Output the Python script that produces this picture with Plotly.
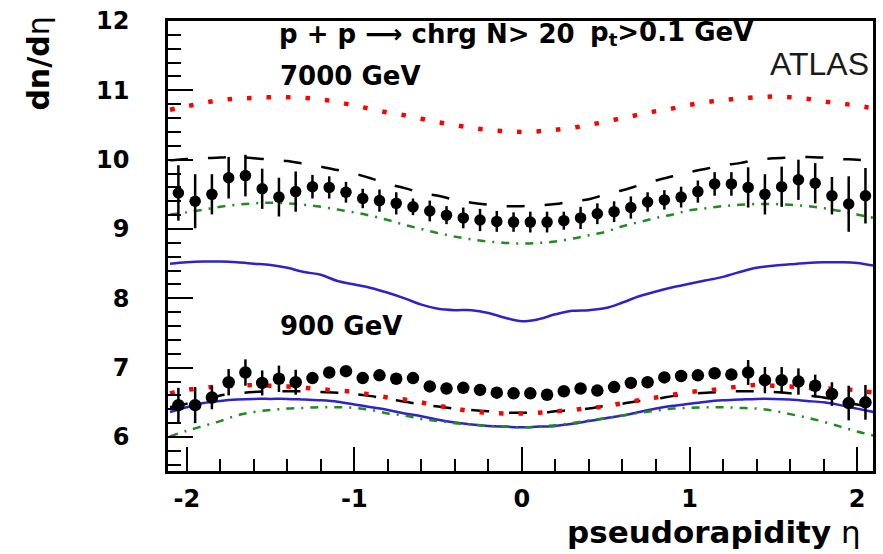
import plotly.graph_objects as go

# ---------------- data ----------------
eta_pts = [-2.05, -1.95, -1.85, -1.75, -1.65, -1.55, -1.45, -1.35, -1.25, -1.15, -1.05,
           -0.95, -0.85, -0.75, -0.65, -0.55, -0.45, -0.35, -0.25, -0.15, -0.05,
           0.05, 0.15, 0.25, 0.35, 0.45, 0.55, 0.65, 0.75, 0.85, 0.95,
           1.05, 1.15, 1.25, 1.35, 1.45, 1.55, 1.65, 1.75, 1.85, 1.95, 2.05]

data_7000 = [9.52, 9.40, 9.50, 9.74, 9.77, 9.58, 9.46, 9.54, 9.61, 9.60, 9.53,
             9.44, 9.41, 9.37, 9.32, 9.26, 9.20, 9.16, 9.13, 9.11, 9.10,
             9.10, 9.10, 9.12, 9.16, 9.22, 9.25, 9.31, 9.39, 9.42, 9.46,
             9.54, 9.65, 9.65, 9.60, 9.50, 9.61, 9.71, 9.66, 9.48, 9.36, 9.48]
err_7000 = [0.40, 0.39, 0.29, 0.30, 0.30, 0.29, 0.28, 0.29, 0.17, 0.16, 0.15,
            0.14, 0.16, 0.16, 0.12, 0.15, 0.13, 0.15, 0.16, 0.15, 0.14,
            0.15, 0.15, 0.13, 0.16, 0.15, 0.15, 0.16, 0.14, 0.14, 0.15,
            0.16, 0.17, 0.17, 0.29, 0.29, 0.29, 0.29, 0.29, 0.27, 0.40, 0.40]

data_900 = [6.46, 6.46, 6.57, 6.79, 6.93, 6.78, 6.84, 6.79, 6.85, 6.93, 6.95,
            6.85, 6.89, 6.84, 6.85, 6.73, 6.70, 6.71, 6.68, 6.64, 6.63,
            6.63, 6.61, 6.66, 6.70, 6.67, 6.72, 6.78, 6.79, 6.86, 6.88,
            6.89, 6.92, 6.90, 6.93, 6.82, 6.82, 6.80, 6.74, 6.62, 6.49, 6.50]
err_900 = [0.25, 0.26, 0.17, 0.19, 0.19, 0.18, 0.19, 0.18, 0.04, 0.04, 0.04,
           0.04, 0.04, 0.04, 0.04, 0.04, 0.04, 0.04, 0.04, 0.04, 0.04,
           0.04, 0.04, 0.04, 0.04, 0.04, 0.04, 0.04, 0.04, 0.04, 0.04,
           0.04, 0.04, 0.04, 0.18, 0.19, 0.19, 0.19, 0.16, 0.17, 0.25, 0.25]

eta_curve = [-2.1, -2.0, -1.9, -1.8, -1.7, -1.6, -1.5, -1.4, -1.3, -1.2, -1.1,
             -1.0, -0.9, -0.8, -0.7, -0.6, -0.5, -0.4, -0.3, -0.2, -0.1,
             0.0, 0.1, 0.2, 0.3, 0.4, 0.5, 0.6, 0.7, 0.8, 0.9,
             1.0, 1.1, 1.2, 1.3, 1.4, 1.5, 1.6, 1.7, 1.8, 1.9, 2.0, 2.1]

red_7000 = [10.72, 10.77, 10.82, 10.86, 10.88, 10.89, 10.90, 10.90, 10.89, 10.87, 10.83,
            10.78, 10.73, 10.68, 10.64, 10.59, 10.54, 10.50, 10.46, 10.43, 10.41,
            10.40, 10.41, 10.43, 10.46, 10.50, 10.55, 10.60, 10.65, 10.70, 10.74,
            10.79, 10.83, 10.86, 10.88, 10.90, 10.91, 10.90, 10.88, 10.84, 10.81, 10.78, 10.74]
dash_7000 = [9.99, 10.01, 10.02, 10.03, 10.04, 10.02, 10.00, 9.98, 9.94, 9.90, 9.85,
             9.80, 9.73, 9.65, 9.59, 9.52, 9.48, 9.42, 9.38, 9.35, 9.33,
             9.33, 9.34, 9.36, 9.40, 9.43, 9.50, 9.56, 9.63, 9.70, 9.76,
             9.82, 9.87, 9.92, 9.95, 10.00, 10.02, 10.03, 10.04, 10.03, 10.01, 10.00, 9.98]
green_7000 = [9.21, 9.24, 9.28, 9.32, 9.35, 9.37, 9.38, 9.37, 9.35, 9.32, 9.28,
              9.24, 9.19, 9.13, 9.06, 9.00, 8.94, 8.89, 8.85, 8.82, 8.80,
              8.79, 8.80, 8.82, 8.86, 8.91, 8.96, 9.04, 9.10, 9.16, 9.21,
              9.27, 9.30, 9.33, 9.35, 9.36, 9.36, 9.35, 9.33, 9.30, 9.26, 9.21, 9.16]
blue_7000 = [8.50, 8.52, 8.53, 8.53, 8.52, 8.50, 8.48, 8.44, 8.38, 8.34, 8.25,
             8.20, 8.15, 8.08, 8.00, 7.91, 7.85, 7.83, 7.83, 7.79, 7.72,
             7.67, 7.70, 7.77, 7.82, 7.83, 7.86, 7.94, 8.03, 8.10, 8.16,
             8.21, 8.26, 8.31, 8.38, 8.44, 8.47, 8.49, 8.51, 8.52, 8.52, 8.51, 8.47]

red_900 = [6.63, 6.68, 6.71, 6.73, 6.74, 6.75, 6.74, 6.73, 6.71, 6.69, 6.67,
           6.65, 6.61, 6.57, 6.54, 6.50, 6.45, 6.41, 6.37, 6.35, 6.34,
           6.34, 6.35, 6.37, 6.39, 6.42, 6.44, 6.49, 6.53, 6.57, 6.61,
           6.65, 6.67, 6.70, 6.73, 6.75, 6.74, 6.73, 6.71, 6.70, 6.70, 6.67, 6.64]
dash_900 = [6.43, 6.48, 6.53, 6.60, 6.63, 6.65, 6.66, 6.66, 6.66, 6.65, 6.64,
            6.62, 6.59, 6.55, 6.51, 6.47, 6.44, 6.41, 6.39, 6.37, 6.35,
            6.35, 6.35, 6.37, 6.39, 6.41, 6.45, 6.48, 6.52, 6.55, 6.59,
            6.62, 6.64, 6.65, 6.66, 6.66, 6.65, 6.63, 6.60, 6.57, 6.52, 6.47, 6.43]
blue_900 = [6.36, 6.43, 6.49, 6.52, 6.54, 6.55, 6.55, 6.55, 6.54, 6.53, 6.51,
            6.47, 6.43, 6.39, 6.34, 6.30, 6.25, 6.21, 6.18, 6.16, 6.15,
            6.14, 6.15, 6.16, 6.19, 6.23, 6.27, 6.31, 6.36, 6.41, 6.45,
            6.48, 6.51, 6.53, 6.54, 6.55, 6.55, 6.54, 6.52, 6.50, 6.46, 6.41, 6.36]
green_900 = [6.01, 6.09, 6.16, 6.23, 6.31, 6.36, 6.39, 6.41, 6.42, 6.43, 6.43,
             6.42, 6.39, 6.34, 6.31, 6.26, 6.23, 6.20, 6.18, 6.16, 6.15,
             6.14, 6.15, 6.17, 6.20, 6.24, 6.27, 6.31, 6.35, 6.38, 6.41,
             6.42, 6.43, 6.43, 6.42, 6.41, 6.38, 6.33, 6.28, 6.22, 6.15, 6.08, 6.02]

x_ticks = [-2, -1, 0, 1, 2]
x_labels = ["-2", "-1", "0", "1", "2"]
y_ticks = [6, 7, 8, 9, 10, 11, 12]
y_labels = ["6", "7", "8", "9", "10", "11", "12"]

# ---------------- styling ----------------
W, H = 883, 554
ML, MR, MT, MB = 168, 7, 17, 83
PW, PH = W - ML - MR, H - MT - MB

def px(x):
    return (x - ML) / PW

def py(y):
    return (H - MB - y) / PH

RED = "#ff0000"
BLUE = "#2f23c8"
GREEN = "#1f8c1f"
BOLD = "DejaVu Sans"

fig = go.Figure()

def curve(y, color, dash, width):
    fig.add_trace(go.Scatter(x=eta_curve, y=y, mode="lines",
                             line=dict(color=color, dash=dash, width=width),
                             line_shape="spline", showlegend=False, hoverinfo="skip"))

curve(blue_7000, BLUE, "solid", 2.5)
curve(green_7000, GREEN, "8px,7px,2px,7px", 2.5)
curve(dash_7000, "black", "18px,20px", 2.5)
curve(red_7000, RED, "4.5px,15px", 4.5)

curve(blue_900, BLUE, "solid", 2.5)
curve(green_900, GREEN, "8px,7px,2px,7px", 2.5)
curve(dash_900, "black", "18px,20px", 2.5)
curve(red_900, RED, "4.5px,15px", 4.5)

fig.add_trace(go.Scatter(x=eta_pts, y=data_7000, mode="markers",
                         marker=dict(color="black", size=11.5, symbol="circle"),
                         error_y=dict(type="data", array=err_7000, color="black",
                                      thickness=2.5, width=0),
                         showlegend=False))
fig.add_trace(go.Scatter(x=eta_pts, y=data_900, mode="markers",
                         marker=dict(color="black", size=12.5, symbol="circle"),
                         error_y=dict(type="data", array=err_900, color="black",
                                      thickness=2.5, width=0),
                         showlegend=False))

axis_common = dict(showgrid=False, zeroline=False, showline=True, linecolor="black",
                   linewidth=2.5, mirror=True, ticks="inside", tickcolor="black",
                   tickwidth=1.5,
                   tickfont=dict(family=BOLD, size=24, color="black", weight="bold"))

fig.update_xaxes(range=[-2.112, 2.095], tickvals=x_ticks, ticktext=x_labels,
                 ticklen=24, ticklabelstandoff=4,
                 minor=dict(ticks="inside", ticklen=12, dtick=0.2, tick0=0,
                            tickcolor="black", tickwidth=1.5, showgrid=False),
                 **axis_common)
fig.update_yaxes(range=[5.51, 12.0], tickvals=y_ticks, ticktext=y_labels,
                 ticklen=25, ticklabelstandoff=31,
                 minor=dict(ticks="inside", ticklen=13, dtick=0.2, tick0=0,
                            tickcolor="black", tickwidth=1.5, showgrid=False),
                 **axis_common)

NB = "\u00a0"
top_left = ("p" + NB + "+" + NB + "p" + NB + "\u27f6" + NB + "chrg" + NB + "N>"
            + NB + "20")
top_right = "p<sub>t</sub>>0.1" + NB + "GeV"

ann = []
ann.append(dict(x=px(277), y=py(30), xref="paper", yref="paper", xanchor="left",
                yanchor="middle", showarrow=False, text=top_left,
                font=dict(family=BOLD, size=26, color="black", weight="bold")))
ann.append(dict(x=px(590), y=py(30), xref="paper", yref="paper", xanchor="left",
                yanchor="middle", showarrow=False, text=top_right,
                font=dict(family=BOLD, size=26, color="black", weight="bold")))
ann.append(dict(x=px(278), y=py(72), xref="paper", yref="paper", xanchor="left",
                yanchor="middle", showarrow=False, text="7000 GeV",
                font=dict(family=BOLD, size=26, color="black", weight="bold")))
ann.append(dict(x=px(278), y=py(325), xref="paper", yref="paper", xanchor="left",
                yanchor="middle", showarrow=False, text="900 GeV",
                font=dict(family=BOLD, size=26, color="black", weight="bold")))
ann.append(dict(x=px(874), y=py(60), xref="paper", yref="paper", xanchor="right",
                yanchor="middle", showarrow=False, text="ATLAS",
                font=dict(family="Liberation Sans", size=32, color="#1a1a1a")))
ann.append(dict(x=px(866), y=py(533), xref="paper", yref="paper", xanchor="right",
                yanchor="middle", showarrow=False, text="<b>pseudorapidity</b> \u03b7",
                font=dict(family=BOLD, size=31, color="black")))
ann.append(dict(x=px(37), y=py(11), xref="paper", yref="paper", xanchor="center",
                yanchor="top", showarrow=False, textangle=-90, text="<b>dn/d</b>\u03b7",
                font=dict(family=BOLD, size=30, color="black")))

fig.update_layout(width=W, height=H, margin=dict(l=ML, r=MR, t=MT, b=MB),
                  paper_bgcolor="white", plot_bgcolor="white",
                  showlegend=False, annotations=ann)

fig.write_html("out.html")
